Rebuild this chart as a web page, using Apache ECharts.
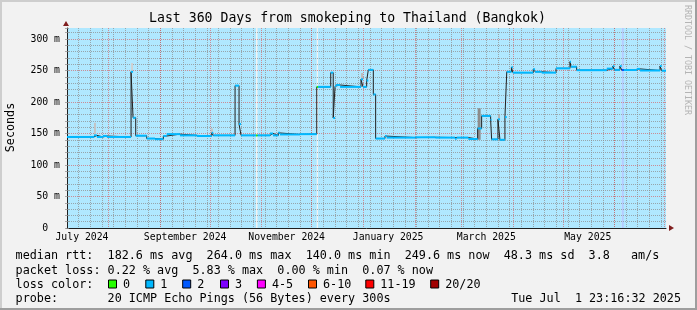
<!DOCTYPE html>
<html>
<head>
<meta charset="utf-8">
<script src="https://cdn.jsdelivr.net/npm/echarts@6.0.0/dist/echarts.min.js"></script>
<style>
html,body{margin:0;padding:0;background:#f2f2f2;}
#chart{width:697px;height:310px;}
</style>
</head>
<body>
<div id="chart"></div>
<script>
// ---------------- data ----------------
const titleText = 'Last 360 Days from smokeping to Thailand (Bangkok)';
const yAxisName = 'Seconds';
const startYear = 2024, startMonth = 6, startDay = 7; // day 0 = 2024-07-07
const totalDays = 360;
const yMax = 317.46;
const yTickStep = 50;

// median rtt (ms): value holds from medDays[i] until medDays[i+1]
const medDays = [0, 16.2, 18.0, 21.6, 24.0, 38.5, 39.7, 41.3, 47.9, 52.9, 57.9, 59.9, 67.9, 78.0, 87.0, 87.9,
  101.0, 103.4, 104.6, 113.6, 114.5, 122.0, 123.8, 127.0, 128.0, 140.0, 150.1, 150.9, 158.5, 160.0, 161.1,
  161.7, 164.1, 176.7, 177.9, 180.1, 181.1, 184.1, 185.5, 191.1, 192.1, 209.4, 221.4, 233.2, 234.2, 241.2,
  246.8, 249.2, 254.6, 255.2, 259.0, 260.2, 263.2, 264.3, 267.1, 268.0, 280.2, 281.3, 285.3, 293.9, 302.3,
  302.9, 306.3, 324.4, 328.1, 329.0, 332.3, 333.4, 334.7, 342.4, 344.4, 356.4, 357.4];
const medVals = [144.5, 147, 144.5, 146, 144.5, 248, 175, 146.5, 142, 141, 146, 149, 147, 146, 151, 147,
  226, 165, 147, 147, 147, 150, 147, 151, 148.5, 149, 224, 224, 246.6, 174.6, 225,
  227, 224, 236, 224, 234, 251, 212, 142, 146, 143.5, 144, 143.5, 141.5, 143.5, 141.3,
  158, 178, 172, 140.7, 172.5, 140, 176, 248, 255, 246.6, 252, 248, 246.6, 253.4, 264,
  256, 250.5, 253, 257, 251, 257, 250.8, 250.8, 252.5, 250, 257, 249.7];
const medLoss = [1, 1, 1, 1, 1, 1, 1, 1, 1, 1, 1, 1, 1, 1, 1, 1,
  1, 1, 1, 0, 1, 1, 1, 1, 1, 1, 0, 1, 1, 1, 1,
  1, 1, 1, 1, 1, 1, 1, 1, 1, 1, 1, 1, 1, 1, 1,
  1, 1, 1, 1, 1, 1, 1, 1, 1, 1, 1, 1, 1, 1, 1,
  1, 1, 1, 1, 1, 1, 2, 1, 1, 1, 1, 1];

// packet loss background bands
const bgStart = [0, 114.5, 150.9, 333.4, 334.7];
const bgEnd   = [113.6, 150.1, 333.4, 334.7, 360];
const bgLoss  = [1, 1, 1, 2, 1];

// smoke (ping spread) patches
const smokeStart = [16.2, 38.5, 86.5, 176.7, 246.8, 259.0];
const smokeEnd   = [17.4, 39.7, 87.7, 177.9, 248.6, 260.2];
const smokeLow   = [147, 248, 151, 236, 140, 172.5];
const smokeHigh  = [167, 262, 158, 246, 190, 180];
const smokeShade = ['#c4c4c4', '#d0d0d0', '#c4c4c4', '#bcbcbc', '#8c8c8c', '#b0b0b0'];

const xTickDates  = ['2024-07-16', '2024-09-16', '2024-11-16', '2025-01-16', '2025-03-16', '2025-05-16'];
const xTickLabels = ['July 2024', 'September 2024', 'November 2024', 'January 2025', 'March 2025', 'May 2025'];

const lossLabels   = ['0', '1', '2', '3', '4-5', '6-10', '11-19', '20/20'];
const lossColors   = ['#26ff00', '#00b8ff', '#0059ff', '#7e00ff', '#ff00ff', '#ff5500', '#ff0000', '#a10000'];
const lossBgColors = ['#ffffff', '#b0e8ff', '#b3cdff', '#d8b3ff', '#ffb3ff', '#ffccb3', '#ffb3b3', '#e3b3b3'];

const legendRows = [
  'median rtt:  182.6 ms avg  264.0 ms max  140.0 ms min  249.6 ms now  48.3 ms sd  3.8   am/s',
  'packet loss: 0.22 % avg  5.83 % max  0.00 % min  0.07 % now',
  'loss color:',
  'probe:       20 ICMP Echo Pings (56 Bytes) every 300s'
];
const stampText = 'Tue Jul  1 23:16:32 2025';
const watermark = 'RRDTOOL / TOBI OETIKER';

// ---------------- layout ----------------
const MONO = '"DejaVu Sans Mono", monospace';
const GRID = 'rgba(143,143,143,0.75)';
const MGRID = 'rgba(222,79,79,0.6)';
const rowY = [256, 270.5, 284.5, 298.5];
const boxX = [108, 145.3, 182.2, 220, 256.9, 308, 365.3, 430.2];

function pad(n) { return (n < 10 ? '0' : '') + n; }
const dayKeys = [], dayDow = [], dayDom = [];
for (let i = 0; i <= totalDays; i++) {
  const d = new Date(startYear, startMonth, startDay + i);
  dayKeys.push(d.getFullYear() + '-' + pad(d.getMonth() + 1) + '-' + pad(d.getDate()));
  dayDow.push(d.getDay());
  dayDom.push(d.getDate());
}
const labelMap = {};
xTickDates.forEach((d, i) => { labelMap[d] = xTickLabels[i]; });

const bgData = bgStart.map((s, i) => [s, bgEnd[i], bgLoss[i]]);
const segData = medDays.map((d, i) => [d, i + 1 < medDays.length ? medDays[i + 1] : totalDays, medVals[i], medLoss[i]]);
const stepData = medDays.map((d, i) => [d, medVals[i]]).concat([[totalDays, medVals[medVals.length - 1]]]);
const smokeData = smokeStart.map((s, i) => [s, smokeEnd[i], smokeLow[i], smokeHigh[i], i]);

const graphics = [];
graphics.push({ type: 'rect', shape: { x: 0, y: 0, width: 697, height: 2 }, style: { fill: '#cecece' }, silent: true });
graphics.push({ type: 'rect', shape: { x: 0, y: 0, width: 2, height: 310 }, style: { fill: '#cecece' }, silent: true });
graphics.push({ type: 'rect', shape: { x: 0, y: 308, width: 697, height: 2 }, style: { fill: '#9e9e9e' }, silent: true });
graphics.push({ type: 'rect', shape: { x: 695, y: 0, width: 2, height: 310 }, style: { fill: '#9e9e9e' }, silent: true });
graphics.push({ type: 'text', x: 347.5, y: 19, style: { text: titleText, font: '13.2px ' + MONO, fill: '#000', align: 'center', verticalAlign: 'middle' } });
graphics.push({ type: 'text', x: 10.5, y: 127.5, rotation: Math.PI / 2, style: { text: yAxisName, font: '11.75px ' + MONO, fill: '#000', align: 'center', verticalAlign: 'middle' } });
graphics.push({ type: 'text', x: 687.5, y: 5, rotation: -Math.PI / 2, style: { text: watermark, font: '8.3px ' + MONO, fill: '#b4b4b4', align: 'left', verticalAlign: 'middle' } });
legendRows.forEach((t, i) => {
  graphics.push({ type: 'text', x: 15.6, y: rowY[i], style: { text: t, font: '11.75px ' + MONO, fill: '#000', align: 'left', verticalAlign: 'middle' } });
});
graphics.push({ type: 'text', x: 681, y: rowY[3], style: { text: stampText, font: '11.75px ' + MONO, fill: '#000', align: 'right', verticalAlign: 'middle' } });
lossLabels.forEach((t, i) => {
  graphics.push({ type: 'rect', shape: { x: boxX[i] + 0.5, y: rowY[2] - 4.5, width: 8, height: 8 }, style: { fill: lossColors[i], stroke: '#000', lineWidth: 1 } });
  graphics.push({ type: 'text', x: boxX[i] + 15, y: rowY[2], style: { text: t, font: '11.75px ' + MONO, fill: '#000', align: 'left', verticalAlign: 'middle' } });
});

const chart = echarts.init(document.getElementById('chart'), null, { renderer: 'canvas' });
chart.setOption({
  animation: false,
  backgroundColor: '#f2f2f2',
  grid: { left: 67, right: 31, top: 28, bottom: 82, containLabel: false, outerBoundsMode: 'none' },
  xAxis: [
    { type: 'value', min: 0, max: totalDays, show: false },
    { type: 'category', data: dayKeys, boundaryGap: false, position: 'bottom',
      axisLine: { show: false, onZero: false }, axisTick: { show: false }, axisLabel: { show: false },
      splitLine: { show: true, interval: (idx) => dayDow[idx] === 0, lineStyle: { color: GRID, width: 1, type: [1, 1] } } },
    { type: 'category', data: dayKeys, boundaryGap: false, position: 'bottom',
      axisLine: { show: true, onZero: false, lineStyle: { color: '#1f1f1f', width: 1 } },
      axisTick: { show: false },
      axisLabel: { show: true, interval: (idx, val) => !!labelMap[val], formatter: (val) => labelMap[val] || '',
        margin: 4, color: '#000', fontFamily: MONO, fontSize: 9.8 },
      splitLine: { show: true, interval: (idx) => dayDom[idx] === 1, lineStyle: { color: MGRID, width: 1, type: [1, 1] } } },
    { type: 'value', min: 0, max: totalDays, position: 'bottom',
      axisLine: { show: true, onZero: false, symbol: ['none', 'triangle'], symbolSize: [6, 5], symbolOffset: [0, 5.5],
        lineStyle: { color: '#801f1f', width: 0 } },
      axisTick: { show: false }, axisLabel: { show: false }, splitLine: { show: false } }
  ],
  yAxis: [
    { type: 'value', min: 0, max: yMax, interval: yTickStep, offset: 1,
      axisLine: { show: true, lineStyle: { color: '#1f1f1f', width: 1 } },
      axisTick: { show: true, length: 2, lineStyle: { color: GRID } },
      minorTick: { show: true, splitNumber: 5, length: 2, lineStyle: { color: GRID } },
      axisLabel: { show: true, showMaxLabel: false, margin: 6, color: '#000', fontFamily: MONO, fontSize: 9.8,
        formatter: (v) => v === 0 ? '0\u00a0\u00a0' : v + ' m' },
      splitLine: { show: true, showMinLine: false, showMaxLine: false, lineStyle: { color: MGRID, width: 1, type: [1, 1] } },
      minorSplitLine: { show: true, lineStyle: { color: GRID, width: 1, type: [1, 1] } } },
    { type: 'value', min: 0, max: yMax, interval: yTickStep, position: 'right',
      axisLine: { show: false }, axisLabel: { show: false }, splitLine: { show: false },
      axisTick: { show: true, length: 2, lineStyle: { color: GRID } },
      minorTick: { show: true, splitNumber: 5, length: 2, lineStyle: { color: GRID } } },
    { type: 'value', min: 0, max: yMax, position: 'left', offset: 1,
      axisLine: { show: true, symbol: ['none', 'triangle'], symbolSize: [6, 5], symbolOffset: [0, 4.5],
        lineStyle: { color: '#801f1f', width: 0 } },
      axisTick: { show: false }, axisLabel: { show: false }, splitLine: { show: false } }
  ],
  series: [
    { type: 'custom', name: 'loss background', xAxisIndex: 0, yAxisIndex: 0, z: -1, silent: true,
      data: bgData, encode: { x: [0, 1] },
      renderItem: (params, api) => {
        const p0 = api.coord([api.value(0), yMax]);
        const p1 = api.coord([api.value(1), 0]);
        return { type: 'rect', shape: { x: p0[0], y: p0[1], width: p1[0] - p0[0], height: p1[1] - p0[1] },
          style: { fill: lossBgColors[api.value(2)] } };
      } },
    { type: 'custom', name: 'smoke', xAxisIndex: 0, yAxisIndex: 0, z: 2, silent: true,
      data: smokeData, encode: { x: [0, 1], y: [2, 3] },
      renderItem: (params, api) => {
        const p0 = api.coord([api.value(0), api.value(3)]);
        const p1 = api.coord([api.value(1), api.value(2)]);
        return { type: 'rect', shape: { x: p0[0], y: p0[1], width: p1[0] - p0[0], height: p1[1] - p0[1] },
          style: { fill: smokeShade[api.value(4)] } };
      } },
    { type: 'line', name: 'median', xAxisIndex: 0, yAxisIndex: 0, z: 3, silent: true,
      data: stepData, step: 'end', showSymbol: false, symbol: 'none',
      lineStyle: { color: '#202020', width: 1 } },
    { type: 'custom', name: 'median loss color', xAxisIndex: 0, yAxisIndex: 0, z: 4, silent: true,
      data: segData, encode: { x: [0, 1], y: 2 },
      renderItem: (params, api) => {
        const a = api.coord([api.value(0), api.value(2)]);
        const b = api.coord([api.value(1), api.value(2)]);
        return { type: 'line', shape: { x1: a[0], y1: a[1], x2: b[0], y2: b[1] },
          style: { stroke: lossColors[api.value(3)], lineWidth: 2 } };
      } }
  ],
  graphic: graphics
});
</script>
</body>
</html>
